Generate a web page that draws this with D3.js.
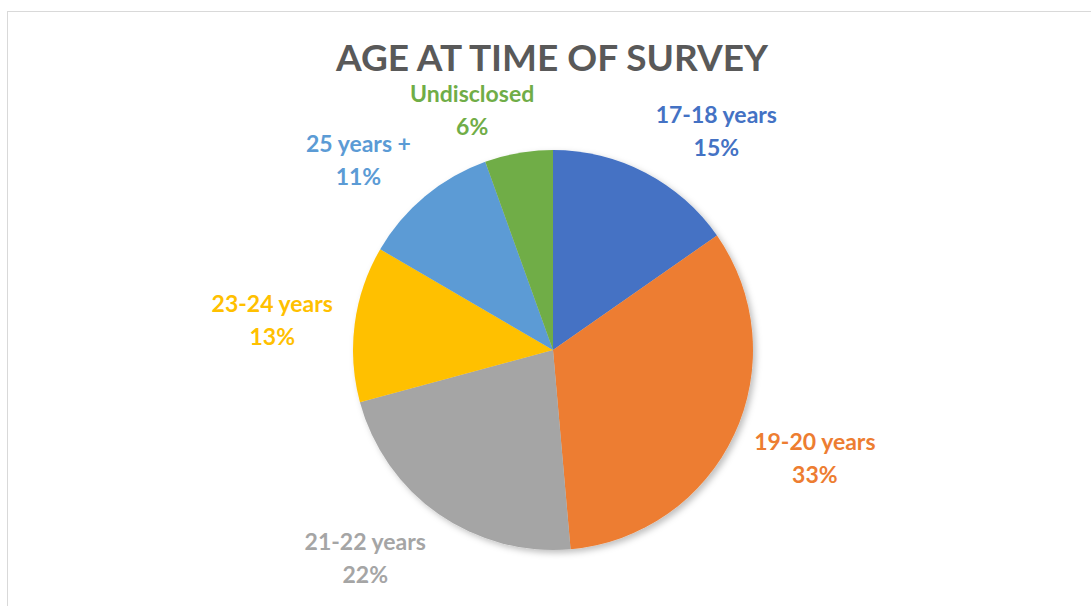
<!DOCTYPE html>
<html>
<head>
<meta charset="utf-8">
<script src="https://cdn.jsdelivr.net/npm/d3@7"></script>
<style>
  body { margin: 0; background: #fff; }
  text { font-family: Lato, "Open Sans", sans-serif; font-weight: bold; }
</style>
</head>
<body>
<div id="chart"></div>
<script>
// ---------------------------//
//          DATA              //
// ---------------------------//
const categories = ["17-18 years", "19-20 years", "21-22 years", "23-24 years", "25 years +", "Undisclosed"];
const shares = [15.3, 33.3, 22.2, 12.6, 11.1, 5.5];
const colors = ["#4472C4", "#ED7D31", "#A5A5A5", "#FFC000", "#5B9BD5", "#70AD47"];
const title = "AGE AT TIME OF SURVEY";

// ---------------------------//
//       SET  CANVAS          //
// ---------------------------//
const width = 1091, height = 606;
const cx = 553, cy = 350, radius = 200;

const svg = d3.select("#chart")
    .append("svg")
    .attr("width", width)
    .attr("height", height);

// chart frame
svg.append("rect")
    .attr("x", 7.5).attr("y", 11.5)
    .attr("width", width + 20).attr("height", height + 20)
    .attr("fill", "none")
    .attr("stroke", "#d9d9d9")
    .attr("stroke-width", 1);

// soft shadow under the pie
const defs = svg.append("defs");
const f = defs.append("filter").attr("id", "shadow")
    .attr("x", "-10%").attr("y", "-10%").attr("width", "120%").attr("height", "120%");
f.append("feDropShadow")
    .attr("dx", 3).attr("dy", 3)
    .attr("stdDeviation", 3)
    .attr("flood-color", "#000")
    .attr("flood-opacity", 0.25);

// title
svg.append("text")
    .attr("x", 552).attr("y", 71)
    .attr("text-anchor", "middle")
    .attr("fill", "#595959")
    .style("font-size", "37px")
    .text(title);

// ---------------------------//
//          PIE               //
// ---------------------------//
const data = categories.map((c, i) => ({name: c, value: shares[i], color: colors[i]}));
const pie = d3.pie().sort(null).value(d => d.value);
const arcs = pie(data);
const arc = d3.arc().innerRadius(0).outerRadius(radius);

const g = svg.append("g").attr("transform", `translate(${cx},${cy})`);

g.append("g")
    .attr("filter", "url(#shadow)")
    .selectAll("path")
    .data(arcs)
    .enter()
    .append("path")
    .attr("d", arc)
    .attr("fill", d => d.data.color);

// ---------------------------//
//        LABELS              //
// ---------------------------//
const labelR = radius + 22;
const lineGap = 33;
const fmt = v => Math.round(v) + "%";

const labels = g.selectAll(".lbl")
    .data(arcs)
    .enter()
    .append("text")
    .attr("class", "lbl")
    .attr("text-anchor", "middle")
    .attr("fill", d => d.data.color)
    .style("font-size", "23px");

labels.append("tspan").attr("x", 0).attr("dy", 0).text(d => d.data.name);
labels.append("tspan").attr("x", 0).attr("dy", lineGap).text(d => fmt(d.data.value));

// place each label box just outside the slice edge, at the slice's mid angle
labels.each(function(d) {
    const t = d3.select(this);
    const bb = this.getBBox();
    const a = (d.startAngle + d.endAngle) / 2;
    const s = Math.sin(a), c = Math.cos(a);
    const px = labelR * s, py = -labelR * c;
    const w = bb.width, h = lineGap * 2;
    const bx = px + (w / 2) * Math.max(-1, Math.min(1, s * 4));
    // labels near the top sit a little lower, clear of the title
    const by = py - (h / 2) * c * 0.85 + (Math.abs(s) < 0.3 ? 4 : 0);
    t.attr("transform", `translate(${bx},${by - lineGap / 2 + 11})`);
});
</script>
</body>
</html>
